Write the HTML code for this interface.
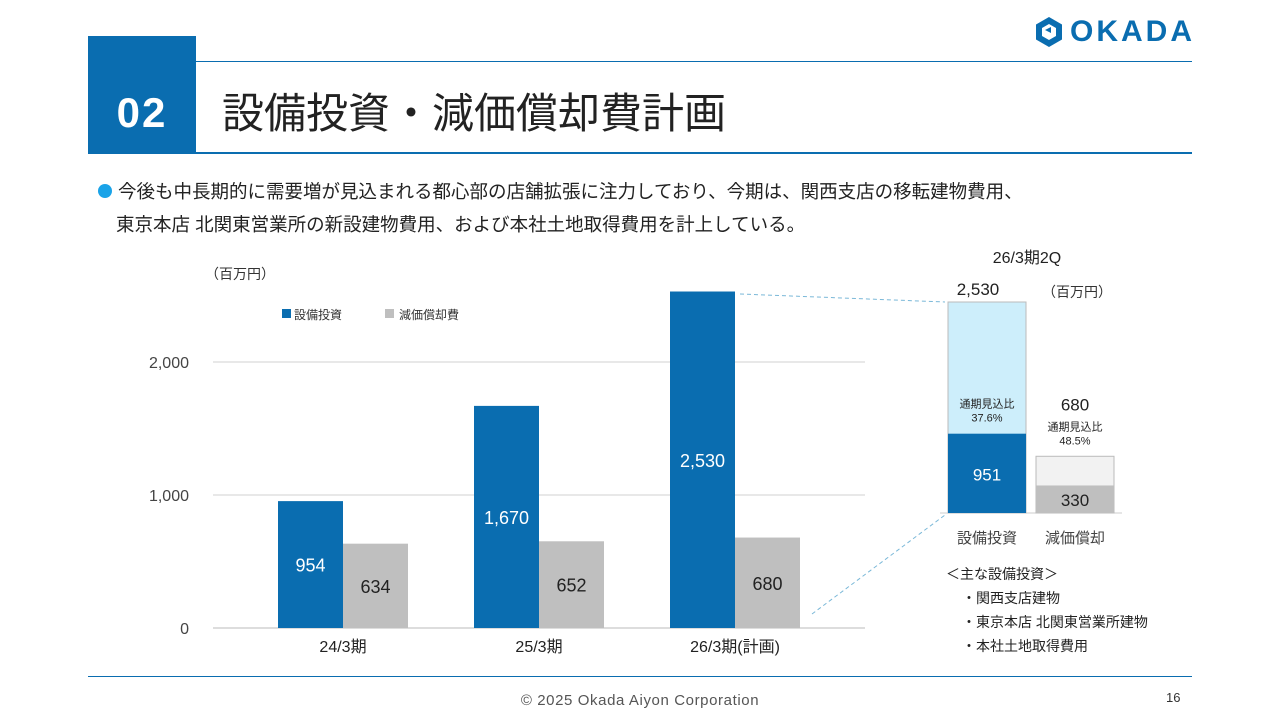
<!DOCTYPE html>
<html><head><meta charset="utf-8">
<style>
body{margin:0;width:1280px;height:720px;background:#fff;font-family:"Liberation Sans","Noto Sans CJK JP",sans-serif;overflow:hidden;position:relative}
.abs{position:absolute}
</style></head>
<body>
<div class="abs" style="left:88px;top:36px;width:108px;height:117px;background:#0a6db0;color:#fff;font-size:42px;font-weight:bold;display:flex;align-items:center;justify-content:center;padding-top:36px;box-sizing:border-box;letter-spacing:2px">02</div>
<div class="abs" style="left:196px;top:61px;width:996px;height:1px;background:#0a6db0"></div>
<div class="abs" style="left:88px;top:152px;width:1104px;height:2px;background:#0a6db0"></div>
<div class="abs" style="left:222px;top:80px;font-size:42px;color:#222">設備投資・減価償却費計画</div>
<div class="abs" style="left:1034px;top:15px;display:flex;align-items:center;gap:6px">
<svg width="30" height="32" viewBox="0 0 30 32"><polygon points="15,1 28,8.5 28,23.5 15,31 2,23.5 2,8.5" fill="#0a6db0"/><polygon points="15,8 22,12 22,20 15,24 8,20 8,12" fill="#fff"/><polygon points="11,14 17,11 17,17" fill="#0a6db0"/></svg>
<span style="font-size:30px;font-weight:bold;color:#0a6db0;letter-spacing:3px">OKADA</span></div>
<div class="abs" style="left:98px;top:175px;font-size:18.5px;color:#222;line-height:33px;white-space:nowrap"><span style="display:inline-block;width:14px;height:14px;border-radius:50%;background:#1aa3e8;vertical-align:0px;margin-right:6px"></span>今後も中長期的に需要増が見込まれる都心部の店舗拡張に注力しており、今期は、関西支店の移転建物費用、<br><span style="margin-left:18px">東京本店 北関東営業所の新設建物費用、および本社土地取得費用を計上している。</span></div>

<svg class="abs" style="left:0;top:0" width="1280" height="720">
<g id="main"></g><g id="side"></g>
</svg>

<div class="abs" style="left:88px;top:676px;width:1104px;height:1px;background:#0a6db0"></div>
<div class="abs" style="left:0;width:1280px;top:692px;text-align:center;font-size:15px;color:#555;letter-spacing:0.6px">© 2025 Okada Aiyon Corporation</div>
<div class="abs" style="left:1166px;top:690px;font-size:13px;color:#333">16</div>

<script>
const categories=["24/3期","25/3期","26/3期(計画)"];
const capex=[954,1670,2530];
const depreciation=[634,652,680];
const yTicks=[0,1000,2000];
const yTickLabels=["0","1,000","2,000"];
const sideCats=["設備投資","減価償却"];
const sideActual=[951,330];
const sideForecast=[2530,680];
const sideRatio=["37.6%","48.5%"];

const NS="http://www.w3.org/2000/svg";
function mk(p,t,a,txt){const e=document.createElementNS(NS,t);for(const k in a)e.setAttribute(k,a[k]);if(txt!==undefined)e.textContent=txt;p.appendChild(e);return e;}
const F='"Liberation Sans","Noto Sans CJK JP",sans-serif';
const main=document.getElementById('main');
const y=v=>628-v*0.133;
const gx=i=>278+i*196;
yTicks.forEach((t,i)=>{
 const l=mk(main,'line',{x1:213,x2:865,y1:y(t),y2:y(t),stroke:i==0?'#bbb':'#d0d0d0','stroke-width':1});
 
 
 const tx=mk(main,'text',{x:189,y:y(t)+6,'text-anchor':'end','font-size':16,fill:'#444','font-family':F},yTickLabels[i]);
 
 
});
const unit=mk(main,'text',{x:205,y:279,'font-size':14,fill:'#333','font-family':F},'（百万円）');


mk(main,'rect',{x:282,y:309,width:9,height:9,fill:'#0a6db0'});
const l1=mk(main,'text',{x:294,y:319,'font-size':12,fill:'#333','font-family':F},'設備投資');


mk(main,'rect',{x:385,y:309,width:9,height:9,fill:'#bfbfbf'});
const l2=mk(main,'text',{x:399,y:319,'font-size':12,fill:'#333','font-family':F},'減価償却費');


categories.forEach((c,i)=>{
 const x=gx(i);
 const b=mk(main,'rect',{x:x,y:y(capex[i]),width:65,height:628-y(capex[i]),fill:'#0a6db0'});
 
 
 const g=mk(main,'rect',{x:x+65,y:y(depreciation[i]),width:65,height:628-y(depreciation[i]),fill:'#bfbfbf'});
 
 
 const v1=mk(main,'text',{x:x+32.5,y:(y(capex[i])+628)/2+7,'text-anchor':'middle','font-size':18,fill:'#fff','font-family':F},capex[i].toLocaleString('en-US'));
 
 
 const v2=mk(main,'text',{x:x+97.5,y:(y(depreciation[i])+628)/2+7,'text-anchor':'middle','font-size':18,fill:'#222','font-family':F},depreciation[i].toLocaleString('en-US'));
 
 
 const cl=mk(main,'text',{x:x+65,y:652,'text-anchor':'middle','font-size':16,fill:'#222','font-family':F},c);
 
 
});
const side=document.getElementById('side');
const sy=v=>513-v*0.0834;
const sx=[948,1036];
mk(side,'line',{x1:740,y1:294,x2:945,y2:302,stroke:'#7ab8d8','stroke-dasharray':'4,3'});
mk(side,'line',{x1:812,y1:614,x2:945,y2:515,stroke:'#7ab8d8','stroke-dasharray':'4,3'});
mk(side,'line',{x1:940,x2:1122,y1:513,y2:513,stroke:'#ccc'});
const hd=mk(side,'text',{x:1027,y:263,'text-anchor':'middle','font-size':16,fill:'#222','font-family':F},'26/3期2Q');


mk(side,'text',{x:1042,y:297,'font-size':14,fill:'#333','font-family':F},'（百万円）');
const cols=[['#cdeefb','#0a6db0','#fff'],['#f2f2f2','#bfbfbf','#222']];
sideCats.forEach((c,i)=>{
 const x=sx[i],w=78;
 const f=mk(side,'rect',{x:x,y:sy(sideForecast[i]),width:w,height:513-sy(sideForecast[i]),fill:cols[i][0],stroke:'#bbb'});
 
 
 const a=mk(side,'rect',{x:x,y:sy(sideActual[i]),width:w,height:513-sy(sideActual[i]),fill:cols[i][1]});
 
 
 const av=mk(side,'text',{x:x+w/2,y:(sy(sideActual[i])+513)/2+7,'text-anchor':'middle','font-size':17,fill:cols[i][2],'font-family':F},sideActual[i].toLocaleString('en-US'));
 
 
 const ty=i==0?sy(sideForecast[i])-7:sy(sideForecast[i])-46;
 const fv=mk(side,'text',{x:x+w/2-(i==0?9:0),y:ty,'text-anchor':'middle','font-size':17,fill:'#222','font-family':F},sideForecast[i].toLocaleString('en-US'));
 
 
 const ry=i==0?sy(sideActual[i])-26:sy(sideForecast[i])-26;
 mk(side,'text',{x:x+w/2,y:ry,'text-anchor':'middle','font-size':11,fill:'#222','font-family':F},'通期見込比');
 const r=mk(side,'text',{x:x+w/2,y:ry+14,'text-anchor':'middle','font-size':11,fill:'#222','font-family':F},sideRatio[i]);
 
 
 const cl=mk(side,'text',{x:x+w/2,y:543,'text-anchor':'middle','font-size':15,fill:'#444','font-family':F},c);
 
 
});
const notes=['＜主な設備投資＞','・関西支店建物','・東京本店 北関東営業所建物','・本社土地取得費用'];
notes.forEach((n,i)=>{const t=mk(side,'text',{x:i?962:946,y:579+i*24,'font-size':14,fill:'#222','font-family':F},n);
 
 });
</script>
</body></html>
